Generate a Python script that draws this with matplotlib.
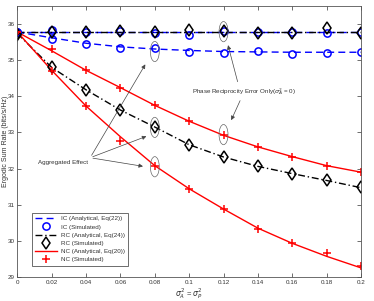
import matplotlib
matplotlib.use("Agg")
import matplotlib.pyplot as plt
from matplotlib.patches import Ellipse
import numpy as np

plt.rcParams['font.family'] = ['Liberation Sans', 'DejaVu Sans']
plt.rcParams['mathtext.fontset'] = 'dejavusans'

x = [0, 0.02, 0.04, 0.06, 0.08, 0.1, 0.12, 0.14, 0.16, 0.18, 0.2]

# Aggregated effect
ic_agg_ana = [35.78, 35.62, 35.47, 35.37, 35.31, 35.27, 35.24, 35.23, 35.22, 35.22, 35.22]
ic_agg_sim = [35.78, 35.60, 35.45, 35.35, 35.33, 35.24, 35.21, 35.25, 35.17, 35.20, 35.22]
rc_agg_ana = [35.74, 34.80, 34.18, 33.62, 33.15, 32.66, 32.32, 32.06, 31.86, 31.67, 31.47]
rc_agg_sim = [35.72, 34.80, 34.18, 33.61, 33.15, 32.65, 32.32, 32.06, 31.86, 31.67, 31.48]
nc_agg_ana = [35.78, 34.72, 33.73, 32.88, 32.08, 31.44, 30.88, 30.35, 29.93, 29.57, 29.25]
nc_agg_sim = [35.78, 34.69, 33.73, 32.77, 32.08, 31.44, 30.88, 30.34, 29.93, 29.66, 29.31]

# Phase reciprocity error only
ic_ph_ana = [35.77] * 11
ic_ph_sim = [35.78, 35.83, 35.77, 35.80, 35.74, 35.70, 35.80, 35.77, 35.77, 35.74, 35.77]
rc_ph_ana = [35.77] * 11
rc_ph_sim = [35.71, 35.77, 35.78, 35.80, 35.77, 35.83, 35.81, 35.76, 35.74, 35.88, 35.74]
nc_ph_ana = [35.78, 35.26, 34.72, 34.24, 33.75, 33.31, 32.92, 32.60, 32.33, 32.08, 31.90]
nc_ph_sim = [35.78, 35.32, 34.72, 34.24, 33.75, 33.31, 32.92, 32.60, 32.33, 32.08, 31.90]

xticks = [0, 0.02, 0.04, 0.06, 0.08, 0.1, 0.12, 0.14, 0.16, 0.18, 0.2]
xticklabels = ['0', '0.02', '0.04', '0.06', '0.08', '0.1', '0.12', '0.14', '0.16', '0.18', '0.2']
yticks = [29, 30, 31, 32, 33, 34, 35, 36]

legend_labels = ['IC (Analytical, Eq(22))', 'IC (Simulated)', 'RC (Analytical, Eq(24))',
                 'RC (Simulated)', 'NC (Analytical, Eq(20))', 'NC (Simulated)']

fig = plt.figure(figsize=(3.74, 3.01), dpi=100)
ax = fig.add_axes([0.0463, 0.080, 0.919, 0.900])

blue = '#0000ff'
red = '#ff0000'
lw = 1.0
ms_o = 5.2
ms_d = 6.0
ms_p = 6.0

# analytical lines
h1, = ax.plot(x, ic_agg_ana, '--', color=blue, lw=lw, dashes=(5, 3))
ax.plot(x, ic_ph_ana, '--', color=blue, lw=lw, dashes=(5, 3))
h3, = ax.plot(x, rc_agg_ana, '-.', color='black', lw=lw, dashes=(5, 2, 1, 2))
ax.plot(x, rc_ph_ana, '-.', color='black', lw=lw, dashes=(5, 2, 1, 2))
h5, = ax.plot(x, nc_agg_ana, '-', color=red, lw=lw)
ax.plot(x, nc_ph_ana, '-', color=red, lw=lw)

# simulated markers
h2, = ax.plot(x, ic_agg_sim, 'o', mfc='none', mec=blue, ms=ms_o, mew=1.1, ls='none')
ax.plot(x, ic_ph_sim, 'o', mfc='none', mec=blue, ms=ms_o, mew=1.1, ls='none')
h4, = ax.plot(x, rc_agg_sim, 'd', mfc='none', mec='black', ms=ms_d, mew=1.1, ls='none')
ax.plot(x, rc_ph_sim, 'd', mfc='none', mec='black', ms=ms_d, mew=1.1, ls='none')
h6, = ax.plot(x, nc_agg_sim, '+', color=red, ms=ms_p, mew=1.1, ls='none')
ax.plot(x, nc_ph_sim, '+', color=red, ms=ms_p, mew=1.1, ls='none')

ax.set_xlim(0, 0.2)
ax.set_ylim(29, 36.5)
ax.set_xticks(xticks)
ax.set_xticklabels(xticklabels)
ax.set_yticks(yticks)
ax.tick_params(direction='in', length=3, width=0.5, labelsize=4.5, colors='#333333',
               top=True, right=True, pad=2)
for s in ax.spines.values():
    s.set_linewidth(0.6)
    s.set_color('#555555')

ax.set_ylabel('Ergodic Sum Rate (bits/s/Hz)', fontsize=5, color='#333333')
ax.yaxis.set_label_coords(-0.025, 0.5)
ax.set_xlabel(r'$\sigma_A^2$ = $\sigma_P^2$', fontsize=5.5, color='#333333', labelpad=1)

# ellipses
ew = 0.0052
eh = 0.56
for (cx, cy) in [(0.08, 35.24), (0.08, 33.14), (0.08, 32.05), (0.12, 35.79), (0.12, 32.94)]:
    ax.add_patch(Ellipse((cx, cy), ew, eh, fill=False, ec='#666666', lw=0.5, zorder=5))

arrowprops = dict(arrowstyle='-|>', color='#444444', lw=0.5, mutation_scale=6)
ax.text(0.0266, 32.18, 'Aggregated Effect', fontsize=4.5, ha='center', va='center', color='#333333')
for (ex, ey) in [(0.0753, 34.95), (0.0766, 32.92), (0.0747, 32.05)]:
    ax.annotate('', xy=(ex, ey), xytext=(0.0424, 32.30), arrowprops=arrowprops)

ax.text(0.132, 34.12, r'Phase Reciprocity Error Only($\sigma_A^2$ = 0)', fontsize=4.5,
        ha='center', va='center', color='#333333')
ax.annotate('', xy=(0.1222, 35.49), xytext=(0.1286, 34.33), arrowprops=arrowprops)
ax.annotate('', xy=(0.1238, 33.27), xytext=(0.1303, 33.95), arrowprops=arrowprops)

leg = ax.legend([h1, h2, h3, h4, h5, h6], legend_labels, loc='lower left',
                bbox_to_anchor=(0.043, 0.042), borderaxespad=0, fontsize=4.5,
                handlelength=3.5, handletextpad=0.6, labelspacing=0.45,
                fancybox=False, edgecolor='#555555', framealpha=1, borderpad=0.5)
leg.get_frame().set_linewidth(0.6)
for t in leg.get_texts():
    t.set_color('#333333')

fig.savefig('out.png', dpi=100)
